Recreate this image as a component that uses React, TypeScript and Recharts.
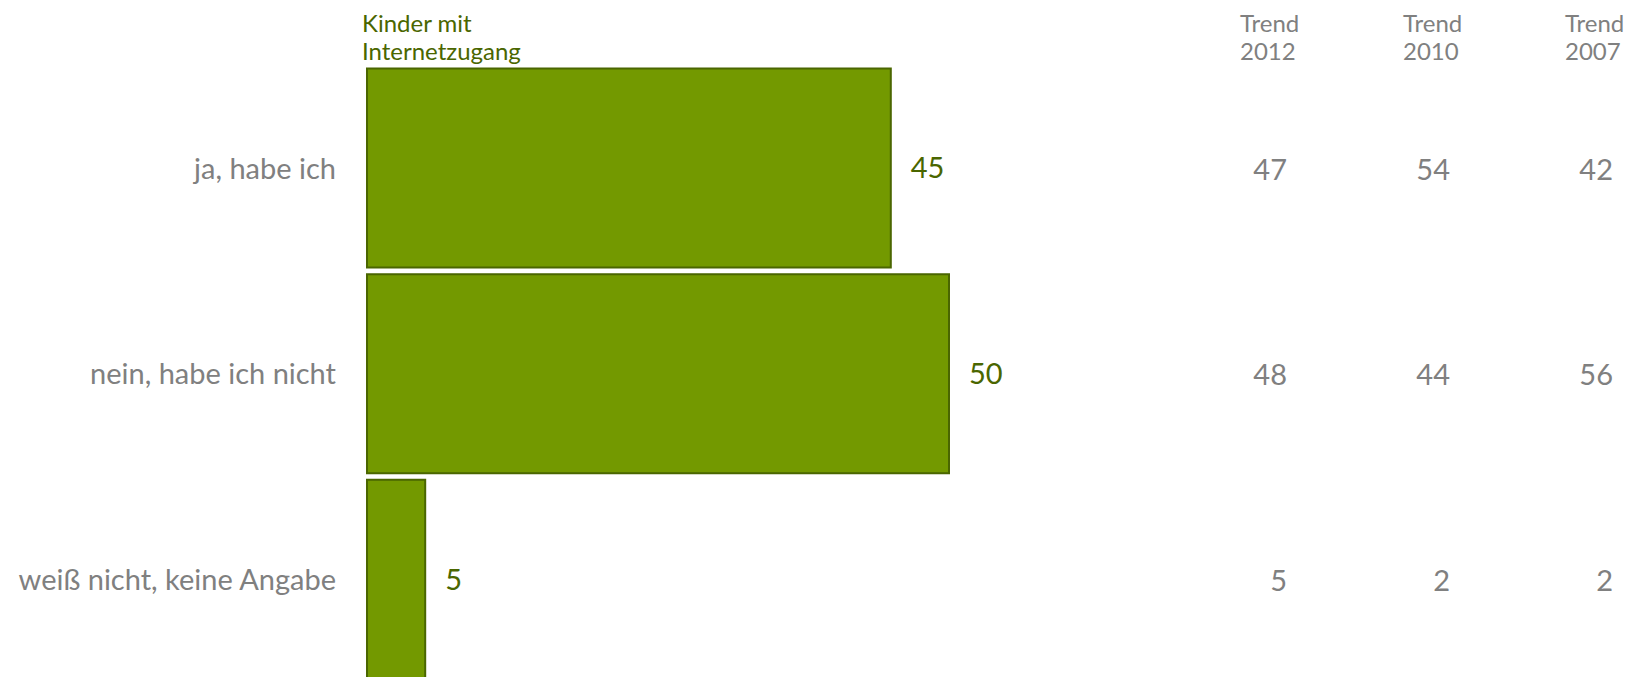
import { Bar, BarChart, LabelList, XAxis, YAxis } from "recharts";

const categories = ["ja, habe ich", "nein, habe ich nicht", "weiß nicht, keine Angabe"];
const kinderMitInternet = [45, 50, 5];
const trend2012 = [47, 48, 5];
const trend2010 = [54, 44, 2];
const trend2007 = [42, 56, 2];
const trendHeaders = ["Trend\n2012", "Trend\n2010", "Trend\n2007"];

const rows = categories.map((name, i) => ({
  name,
  value: kinderMitInternet[i],
  t2012: trend2012[i],
  t2010: trend2010[i],
  t2007: trend2007[i],
}));

const FONT = "Lato, 'Open Sans', sans-serif";
const GREEN = "#739900";
const GREEN_DARK = "#4a6600";
const GRAY = "#808080";

// right edges of the trend number columns, left edges of their headers
const trendColX = [1287, 1450, 1613];
const headerLeftX = [1240, 1403, 1565];

const trendCol = (colIndex: number, values: number[]) => (props: any) => {
  const { y, height, index } = props;
  return (
    <text
      x={trendColX[colIndex]}
      y={Number(y) + Number(height) / 2}
      textAnchor="end"
      dominantBaseline="central"
      fontSize={29}
      fontFamily={FONT}
      fill={GRAY}
    >
      {values[index]}
    </text>
  );
};

export default function App() {
  return (
    <div
      style={{
        position: "absolute",
        left: 0,
        top: 0,
        width: 1631,
        height: 677,
        overflow: "hidden",
        background: "#fff",
        fontFamily: FONT,
      }}
    >
      <div
        style={{
          position: "absolute",
          left: 362,
          top: 9,
          fontSize: 24,
          lineHeight: "28px",
          color: GREEN_DARK,
          whiteSpace: "nowrap",
        }}
      >
        Kinder mit
        <br />
        Internetzugang
      </div>
      {trendHeaders.map((h, i) => (
        <div
          key={h}
          style={{
            position: "absolute",
            left: headerLeftX[i],
            top: 9,
            fontSize: 24,
            lineHeight: "28px",
            color: GRAY,
            whiteSpace: "pre",
          }}
        >
          {h}
        </div>
      ))}
      <div style={{ position: "absolute", left: 0, top: 0 }}>
        <BarChart
          width={1631}
          height={700}
          data={rows}
          layout="vertical"
          margin={{ top: 65.5, right: 682, bottom: 17.5, left: 0 }}
          barSize={199}
        >
          <XAxis type="number" domain={[0, 50]} hide />
          <YAxis
            type="category"
            dataKey="name"
            width={367}
            axisLine={false}
            tickLine={false}
            tickSize={0}
            tickMargin={31}
            tick={{ fontSize: 29, fill: GRAY, fontFamily: FONT }}
          />
          <Bar
            dataKey="value"
            fill={GREEN}
            stroke={GREEN_DARK}
            strokeWidth={2}
            isAnimationActive={false}
          >
            <LabelList
              dataKey="value"
              position="right"
              offset={20}
              fontSize={29}
              fontFamily={FONT}
              fill={GREEN_DARK}
            />
            <LabelList dataKey="t2012" content={trendCol(0, trend2012)} />
            <LabelList dataKey="t2010" content={trendCol(1, trend2010)} />
            <LabelList dataKey="t2007" content={trendCol(2, trend2007)} />
          </Bar>
        </BarChart>
      </div>
    </div>
  );
}
